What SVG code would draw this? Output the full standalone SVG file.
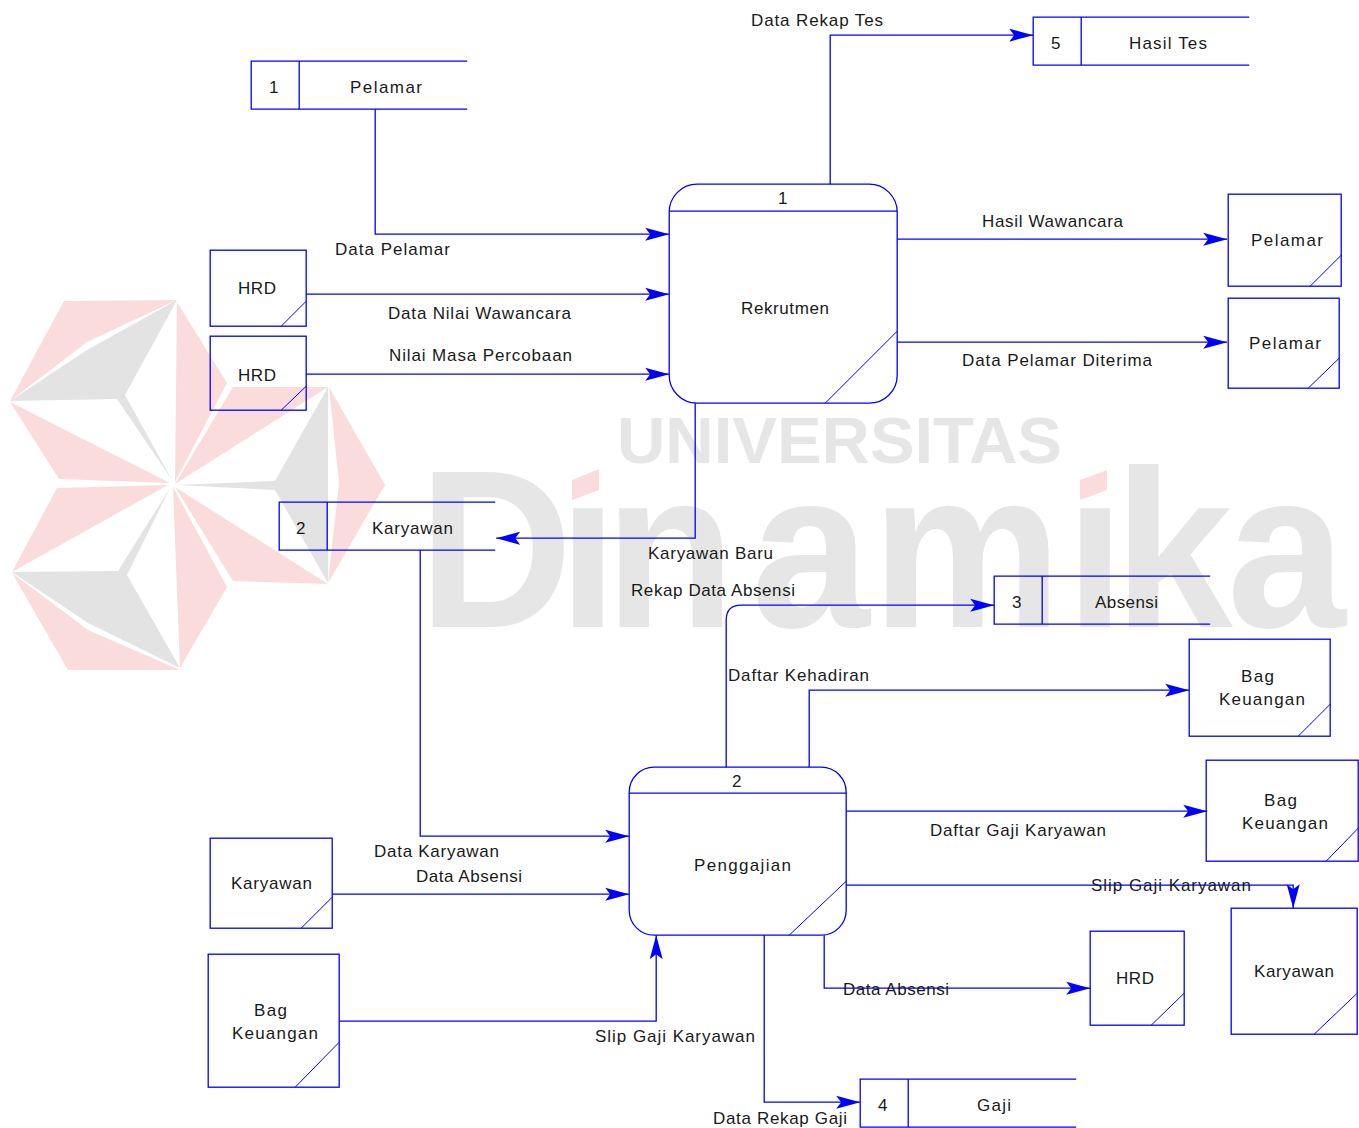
<svg xmlns="http://www.w3.org/2000/svg" width="1359" height="1128" viewBox="0 0 1359 1128">
<style>
.s{fill:none;stroke:#0000ff;stroke-width:1.3;transform:translate(.2px,.2px)}
.c{fill:none;stroke:#0000ff;stroke-width:1.3;marker-end:url(#a);transform:translate(.2px,.2px)}
.d{fill:none;stroke:#0000ff;stroke-width:1;transform:translate(.2px,.2px)}
text{font-family:"Liberation Sans",Arial,sans-serif;font-size:17px;fill:#1a1a1a}
.p{fill:#fbdcdc}
.g{fill:#e3e3e3}
.w{font-weight:700;fill:#e6e6e6}
</style>
<defs>
<marker id="a" markerUnits="userSpaceOnUse" markerWidth="26" markerHeight="16" refX="24" refY="7" orient="auto" viewBox="0 0 26 16"><path d="M0 0.500L24 7L0 13.500L5 7Z" fill="#0000ff"/></marker>
</defs>
<rect width="1359" height="1128" fill="#fff"/>
<g id="watermark">
<polygon class="p" points="64,301 177,300 87,342 10,401"/>
<polygon class="g" points="177,300 125,395 172,480 117,399 10,401 87,350"/>
<polygon class="p" points="10,402 59,479 170,483"/>
<polygon class="p" points="177,302 227,383 175,482"/>
<polygon class="p" points="233,387 328,387 175,484"/>
<polygon class="g" points="328,387 275,481 177,485 275,490 328,583"/>
<polygon class="p" points="329,387 385,485 328,583 339,483"/>
<polygon class="p" points="175,487 328,584 233,581"/>
<polygon class="p" points="173,487 227,587 180,668"/>
<polygon class="g" points="170,488 127,575 180,668 88,623 12,572 118,571"/>
<polygon class="p" points="12,573 68,670 180,670 88,630"/>
<polygon class="p" points="12,572 57,488 168,485"/>
<text class="w" x="617" y="463" style="font-size:64px" textLength="445" lengthAdjust="spacingAndGlyphs">UNIVERSITAS</text>
<text class="w" transform="translate(430 627) scale(.95 1)" x="-12 135 184 338 465 669 720 839" y="0" style="font-size:225px">Dinamika</text>
<rect x="566" y="455" width="42" height="50" fill="#fff"/>
<rect x="1074" y="464" width="42" height="41" fill="#fff"/>
<polygon class="p" points="572,480 599,469 599,490 572,500"/>
<polygon class="p" points="1080,480 1107,470 1107,490 1080,500"/>
</g>
<g id="connectors">
<path class="c" d="M375 109V234H669"/>
<path class="c" d="M306 294H669"/>
<path class="c" d="M306 374H669"/>
<path class="c" d="M830 184V35H1033"/>
<path class="c" d="M897 239H1227"/>
<path class="c" d="M897 342H1227"/>
<path class="c" d="M695 403V538H496"/>
<path class="c" d="M420 550V836H629"/>
<path class="c" d="M332 894H629"/>
<path class="c" d="M339 1021H656V935"/>
<path class="c" d="M726 767V620Q726 605 741 605H994"/>
<path class="c" d="M809 767V690H1189"/>
<path class="c" d="M846 811H1207"/>
<path class="c" d="M846 885H1293V908"/>
<path class="c" d="M824 935V988H1090"/>
<path class="c" d="M764 935V1102H860"/>
<text x="751" y="26" textLength="132">Data Rekap Tes</text>
<text x="335" y="255" textLength="115">Data Pelamar</text>
<text x="982" y="227" textLength="141">Hasil Wawancara</text>
<text x="388" y="319" textLength="183">Data Nilai Wawancara</text>
<text x="389" y="361" textLength="183">Nilai Masa Percobaan</text>
<text x="962" y="366" textLength="190">Data Pelamar Diterima</text>
<text x="648" y="559" textLength="125">Karyawan Baru</text>
<text x="631" y="596" textLength="164">Rekap Data Absensi</text>
<text x="728" y="681" textLength="141">Daftar Kehadiran</text>
<text x="930" y="836" textLength="176">Daftar Gaji Karyawan</text>
<text x="374" y="857" textLength="125">Data Karyawan</text>
<text x="416" y="882" textLength="106">Data Absensi</text>
<text x="1091" y="891" textLength="160">Slip Gaji Karyawan</text>
<text x="843" y="995" textLength="106">Data Absensi</text>
<text x="595" y="1042" textLength="160">Slip Gaji Karyawan</text>
<text x="713" y="1124" textLength="134">Data Rekap Gaji</text>
</g>
<g id="store-pelamar"><path class="s" d="M467 61H251V109H467M299 61V109"/><text x="269" y="93">1</text><text x="350" y="93" textLength="72">Pelamar</text></g>
<g id="store-hasil-tes"><path class="s" d="M1249 17H1033V65H1249M1081 17V65"/><text x="1051" y="49">5</text><text x="1129" y="49" textLength="78">Hasil Tes</text></g>
<g id="store-karyawan"><path class="s" d="M495 502H279V550H495M327 502V550"/><text x="296" y="534">2</text><text x="372" y="534" textLength="81">Karyawan</text></g>
<g id="store-absensi"><path class="s" d="M1210 576H994V624H1210M1042 576V624"/><text x="1012" y="608">3</text><text x="1095" y="608" textLength="63">Absensi</text></g>
<g id="store-gaji"><path class="s" d="M1076 1079H860V1127H1076M908 1079V1127"/><text x="878" y="1111">4</text><text x="977" y="1111" textLength="34">Gaji</text></g>
<g id="process-1"><rect class="s" x="669" y="184" width="228" height="219" rx="28"/><path class="s" d="M669 211H897"/><path class="d" d="M897 331L825 403"/><text x="778" y="204">1</text><text x="741" y="314" textLength="88">Rekrutmen</text></g>
<g id="process-2"><rect class="s" x="629" y="767" width="217" height="168" rx="25"/><path class="s" d="M629 793H846"/><path class="d" d="M846 881L789 935"/><text x="732" y="787">2</text><text x="694" y="871" textLength="97">Penggajian</text></g>
<g id="entity-hrd-1"><rect class="s" x="210" y="250" width="96" height="76"/><path class="d" d="M306 301L281 326"/><text x="238" y="294" textLength="38">HRD</text></g>
<g id="entity-hrd-2"><rect class="s" x="210" y="336" width="96" height="74"/><path class="d" d="M306 386L281 410"/><text x="238" y="381" textLength="38">HRD</text></g>
<g id="entity-pelamar-1"><rect class="s" x="1228" y="194" width="113" height="92"/><path class="d" d="M1341 255L1310 286"/><text x="1251" y="246" textLength="72">Pelamar</text></g>
<g id="entity-pelamar-2"><rect class="s" x="1228" y="298" width="111" height="90"/><path class="d" d="M1339 358L1308 388"/><text x="1249" y="349" textLength="72">Pelamar</text></g>
<g id="entity-bag-1"><rect class="s" x="1189" y="639" width="141" height="97"/><path class="d" d="M1330 704L1298 736"/><text x="1241" y="682" textLength="33">Bag</text><text x="1219" y="705" textLength="86">Keuangan</text></g>
<g id="entity-bag-2"><rect class="s" x="1206" y="760" width="152" height="101"/><path class="d" d="M1358 828L1326 861"/><text x="1264" y="806" textLength="33">Bag</text><text x="1242" y="829" textLength="86">Keuangan</text></g>
<g id="entity-karyawan-1"><rect class="s" x="210" y="838" width="122" height="90"/><path class="d" d="M332 897L301 928"/><text x="231" y="889" textLength="81">Karyawan</text></g>
<g id="entity-bag-3"><rect class="s" x="208" y="954" width="131" height="133"/><path class="d" d="M339 1042L295 1087"/><text x="254" y="1016" textLength="33">Bag</text><text x="232" y="1039" textLength="86">Keuangan</text></g>
<g id="entity-hrd-3"><rect class="s" x="1090" y="931" width="94" height="94"/><path class="d" d="M1184 993L1151 1025"/><text x="1116" y="984" textLength="38">HRD</text></g>
<g id="entity-karyawan-2"><rect class="s" x="1231" y="908" width="126" height="126"/><path class="d" d="M1357 993L1314 1034"/><text x="1254" y="977" textLength="80">Karyawan</text></g>
</svg>
